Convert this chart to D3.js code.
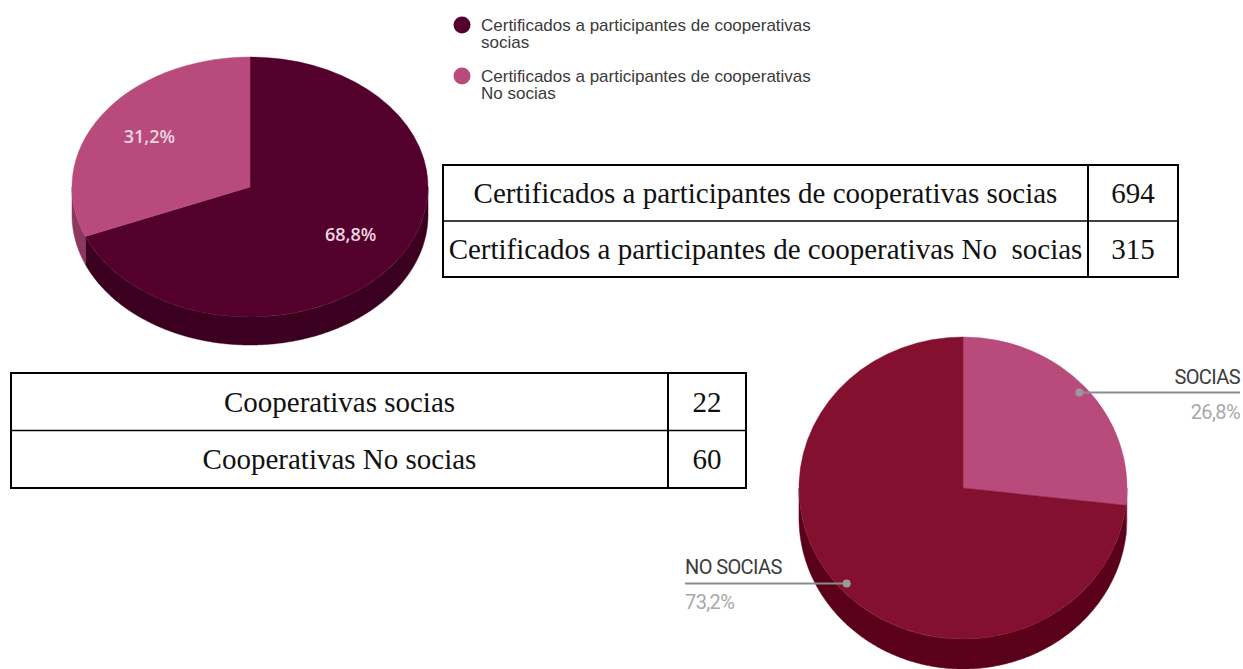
<!DOCTYPE html>
<html>
<head>
<meta charset="utf-8">
<script src="https://cdn.jsdelivr.net/npm/d3@7"></script>
<style>
  html, body { margin: 0; padding: 0; background: #fff; }
  svg { display: block; }
</style>
</head>
<body>
<div class="chart"></div>
<script>
// 데이터
const certLabels = ["Certificados a participantes de cooperativas socias", "Certificados a participantes de cooperativas No  socias"];
const certValues = [694, 315];
const certLegend = [["Certificados a participantes de cooperativas", "socias"], ["Certificados a participantes de cooperativas", "No socias"]];
const coopLabels = ["Cooperativas socias", "Cooperativas No socias"];
const coopValues = [22, 60];
const coopPieLabels = ["SOCIAS", "NO SOCIAS"];

const W = 1243, H = 669;
const svg = d3.select(".chart").append("svg")
  .attr("width", W).attr("height", H);

const fmt = v => d3.format(".1f")(v).replace(".", ",") + "%";

/******************** 3D 파이 ********************/
function Pie3D(values, {cx, cy, rx, ry, depth, tops, sides}) {
  const arcs = d3.pie().sort(null)(values);
  const k = ry / rx;
  const g = svg.append("g");
  const pt = (a, dy) => [cx + rx * Math.sin(a), cy - ry * Math.cos(a) + dy];
  const line = d3.line();

  // 옆면 (앞쪽 반만)
  arcs.forEach((d, i) => {
    const a0 = Math.max(d.startAngle, Math.PI / 2);
    const a1 = Math.min(d.endAngle, Math.PI * 3 / 2);
    if (a1 <= a0) return;
    const as = d3.range(a0, a1, 0.01).concat([a1]);
    const p = as.map(a => pt(a, 0)).concat(as.slice().reverse().map(a => pt(a, depth)));
    g.append("path").attr("d", line(p) + "Z").attr("fill", sides[i]).attr("stroke", sides[i]).attr("stroke-width", 0.5);
  });

  // 윗면
  const arc = d3.arc().innerRadius(0).outerRadius(rx);
  g.append("g")
    .attr("transform", `translate(${cx},${cy}) scale(1,${k})`)
    .selectAll("path").data(arcs).join("path")
      .attr("d", arc)
      .attr("fill", (d, i) => tops[i])
      .attr("stroke", (d, i) => tops[i])
      .attr("stroke-width", 0.5);

  const total = d3.sum(values);
  const at = (d, f) => {
    const c = d3.arc().innerRadius(rx * f).outerRadius(rx * f).centroid(d);
    return [cx + c[0], cy + c[1] * k];
  };
  return {arcs, at, total};
}

/******************** 파이 1 ********************/
const pie1 = Pie3D(certValues, {
  cx: 250, cy: 187, rx: 178, ry: 130, depth: 28,
  tops: ["#54002c", "#b84a7c"],
  sides: ["#3b001f", "#8e3860"]
});
pie1.arcs.forEach(d => {
  const [x, y] = pie1.at(d, 0.68);
  svg.append("text")
    .attr("x", x).attr("y", y)
    .attr("text-anchor", "middle").attr("dominant-baseline", "middle")
    .attr("font-family", "Open Sans, sans-serif").attr("font-size", 18).attr("font-weight", 600)
    .attr("fill", "#ecd6e1")
    .text(fmt(d.value / pie1.total * 100));
});

// 범례
const legColors = ["#54002c", "#b84a7c"];
certLegend.forEach((lines, i) => {
  const y = 25 + i * 51;
  svg.append("circle").attr("cx", 462).attr("cy", y).attr("r", 8.5).attr("fill", legColors[i]);
  svg.append("text")
    .attr("font-family", "Liberation Sans, Arial, sans-serif").attr("font-size", 17)
    .attr("fill", "#3a3a3a")
    .selectAll("tspan").data(lines).join("tspan")
      .attr("x", 481).attr("y", (_, j) => y + 6 + j * 17)
      .text(t => t);
});

/******************** 표 ********************/
function Table(labels, values, {x, y, w, h, col, fs}) {
  const g = svg.append("g");
  const rows = d3.scaleBand().domain(d3.range(labels.length)).range([y, y + h]);
  g.append("rect").attr("x", x).attr("y", y).attr("width", w).attr("height", h)
    .attr("fill", "none").attr("stroke", "#000").attr("stroke-width", 2);
  g.append("line").attr("x1", col).attr("x2", col).attr("y1", y).attr("y2", y + h)
    .attr("stroke", "#000").attr("stroke-width", 2);
  labels.forEach((l, i) => {
    if (i > 0) g.append("line").attr("x1", x).attr("x2", x + w)
      .attr("y1", rows(i)).attr("y2", rows(i)).attr("stroke", "#000").attr("stroke-width", 1.5);
    const cyR = rows(i) + rows.bandwidth() / 2;
    g.append("text").attr("x", (x + col) / 2).attr("y", cyR)
      .attr("text-anchor", "middle").attr("dominant-baseline", "central")
      .attr("font-family", "Liberation Serif, serif").attr("font-size", fs).attr("fill", "#111")
      .attr("xml:space", "preserve")
      .text(l);
    g.append("text").attr("x", (col + x + w) / 2).attr("y", cyR)
      .attr("text-anchor", "middle").attr("dominant-baseline", "central")
      .attr("font-family", "Liberation Serif, serif").attr("font-size", fs).attr("fill", "#111")
      .text(values[i]);
  });
}
Table(certLabels, certValues, {x: 443, y: 165, w: 735, h: 112, col: 1088, fs: 29});
Table(coopLabels, coopValues, {x: 11, y: 373, w: 735, h: 115, col: 668, fs: 29});

/******************** 파이 2 ********************/
const pie2 = Pie3D(coopValues, {
  cx: 963, cy: 488, rx: 164, ry: 151, depth: 30,
  tops: ["#b84a7c", "#84102f"],
  sides: ["#8e3860", "#5a001b"]
});
pie2.arcs.forEach((d, i) => {
  const [x, y] = pie2.at(d, 0.95);
  const right = x > 963;
  const xe = right ? 1240 : 685;
  svg.append("line").attr("x1", x).attr("x2", xe).attr("y1", y).attr("y2", y)
    .attr("stroke", "#8c8c8c").attr("stroke-width", 2);
  svg.append("circle").attr("cx", x).attr("cy", y).attr("r", 4).attr("fill", "#9a9a9a");
  const anchor = right ? "end" : "start";
  svg.append("text").attr("x", xe).attr("y", y - 9)
    .attr("text-anchor", anchor)
    .attr("font-family", "Liberation Sans Narrow, Roboto, sans-serif").attr("font-size", 20)
    .attr("letter-spacing", -0.6)
    .attr("fill", "#3c3c3c")
    .text(coopPieLabels[i]);
  svg.append("text").attr("x", xe).attr("y", y + 26)
    .attr("text-anchor", anchor)
    .attr("font-family", "Liberation Sans Narrow, Roboto, sans-serif").attr("font-size", 20)
    .attr("letter-spacing", -0.6)
    .attr("fill", "#a8a8a8")
    .text(fmt(d.value / pie2.total * 100));
});
</script>
</body>
</html>
